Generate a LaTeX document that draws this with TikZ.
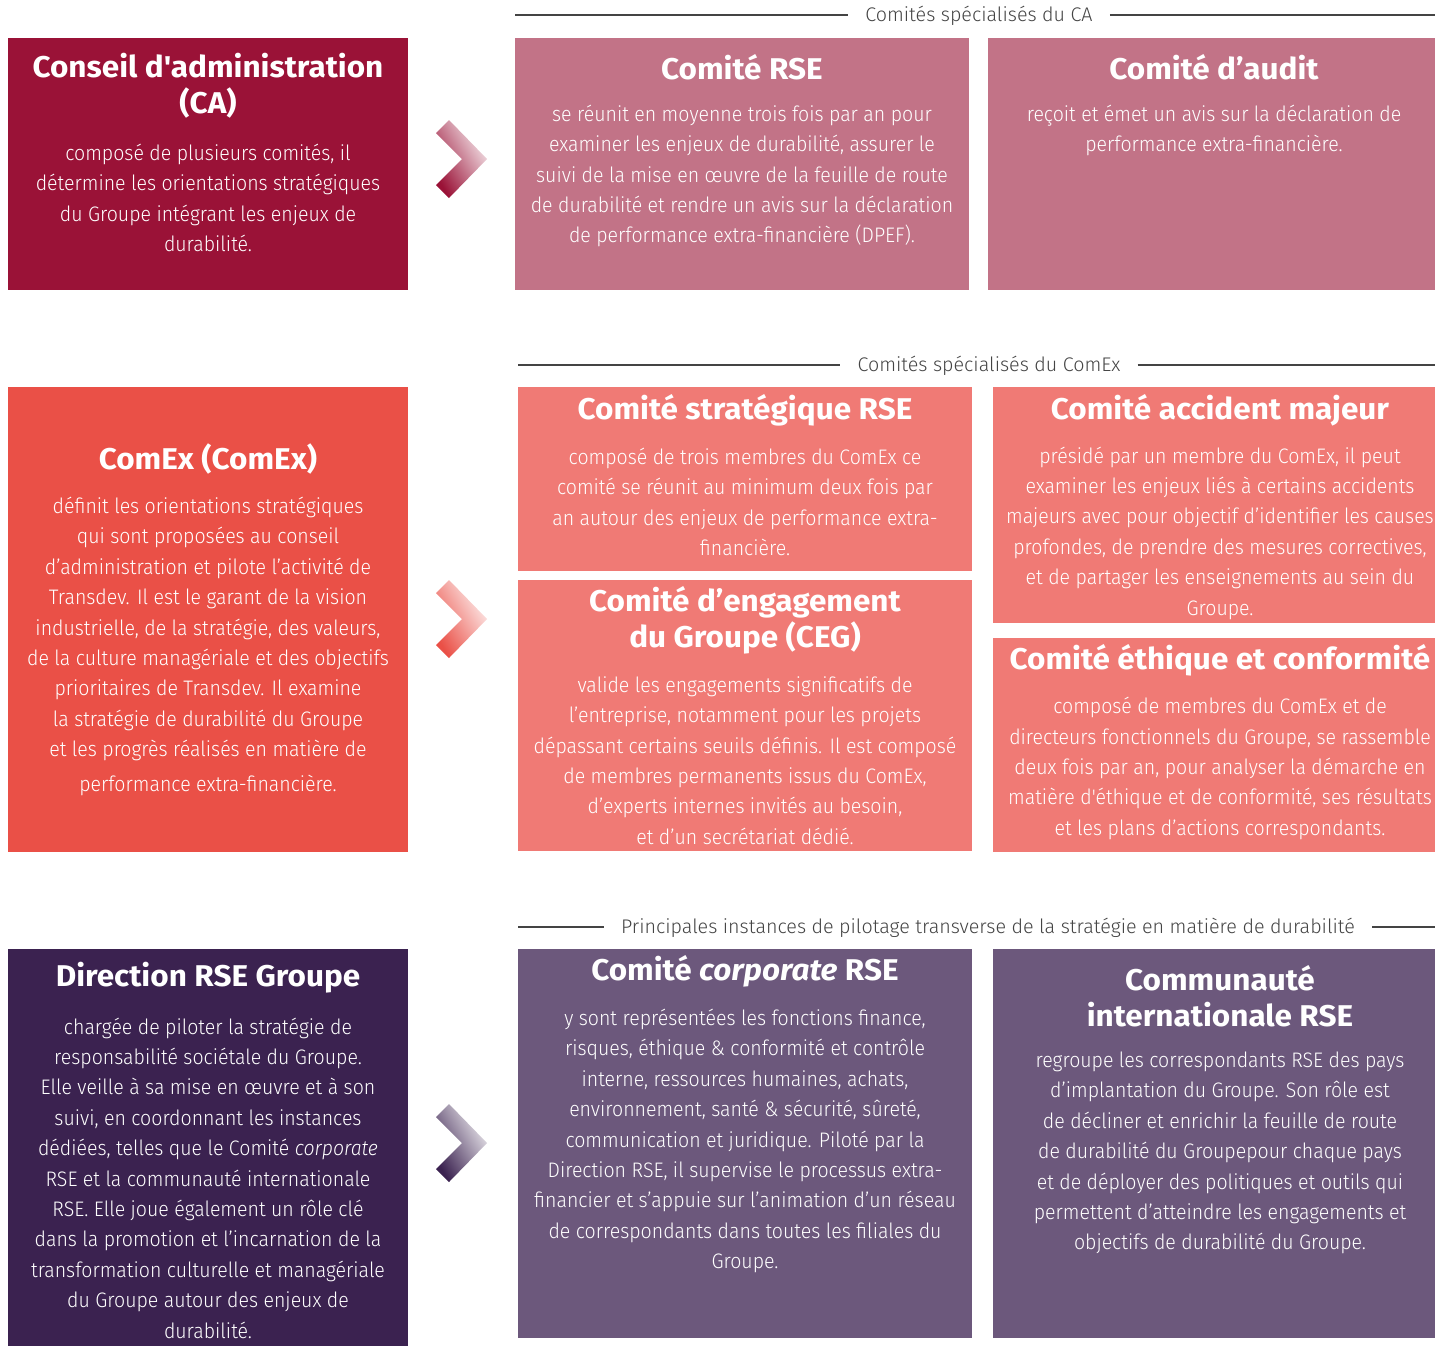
\documentclass[tikz,border=0pt]{standalone}
\usepackage{fontspec}
\setmainfont{Fira Sans}[UprightFont=* Light, BoldFont=* Bold, ItalicFont=* Light Italic, BoldItalicFont=* Bold Italic]
\newfontfamily\bodyfont{Fira Sans}[UprightFont=* Light, ItalicFont=* Light Italic, FakeStretch=0.93]
\newfontfamily\hdrfont{Fira Sans}[UprightFont=* Light, ItalicFont=* Light Italic]
\newfontfamily\ttlfont{Fira Sans}[UprightFont=* Bold, ItalicFont=* Bold Italic, FakeStretch=1.05]
\definecolor{caC}{HTML}{9A1237}
\definecolor{pinkC}{HTML}{C27387}
\definecolor{comexC}{HTML}{EA5047}
\definecolor{coralC}{HTML}{F07A75}
\definecolor{dpurC}{HTML}{3B2250}
\definecolor{lpurC}{HTML}{6C587C}
\definecolor{hdrC}{HTML}{444444}
\newcommand\mychev[3]{%
  \shade[left color=#2, right color=#3, shading angle=120]
    (436,{#1-26}) -- (449,{#1-39}) -- (487,#1) -- (449,{#1+39}) -- (436,{#1+26}) -- (462,#1) -- cycle;}
\begin{document}
\begin{tikzpicture}[x=1pt,y=-1pt,
  ttl/.style={text=white, font=\ttlfont\fontsize{30}{36}\selectfont, align=center, inner sep=0pt},
  body/.style={text=white, font=\bodyfont\fontsize{21}{30.4}\selectfont, align=center, inner sep=0pt},
  hdr/.style={text=hdrC, font=\hdrfont\fontsize{19.7}{22}\selectfont, inner xsep=17pt, inner ysep=0pt},
  hline/.style={draw=hdrC, line width=1.3pt}]
\useasboundingbox (0,0) rectangle (1435,1345);
\clip (0,0) rectangle (1435,1345);
% boxes
\fill[caC] (8,38) rectangle (408,290);
\fill[pinkC] (515,38) rectangle (969,290);
\fill[pinkC] (988,38) rectangle (1440,290);
\fill[comexC] (8,387) rectangle (408,852);
\fill[coralC] (518,387) rectangle (972,571);
\fill[coralC] (518,580) rectangle (972,851);
\fill[coralC] (993,387) rectangle (1447,623);
\fill[coralC] (993,638) rectangle (1447,852);
\fill[dpurC] (8,949) rectangle (408,1350);
\fill[lpurC] (518,949) rectangle (972,1338);
\fill[lpurC] (993,949) rectangle (1447,1338);
% chevrons
\mychev{159}{caC}{caC!8}
\mychev{619}{comexC}{comexC!8}
\mychev{1143}{dpurC}{dpurC!8}
% headers
\node[hdr] (h1) at (979,16) {Comités spécialisés du CA};
\coordinate (h1l) at (515,15); \coordinate (h1r) at (1435,15);
\draw[hline] (h1l) -- (h1l -| h1.west); \draw[hline] (h1r -| h1.east) -- (h1r);
\node[hdr] (h2) at (989,366) {Comités spécialisés du ComEx};
\coordinate (h2l) at (518,365); \coordinate (h2r) at (1435,365);
\draw[hline] (h2l) -- (h2l -| h2.west); \draw[hline] (h2r -| h2.east) -- (h2r);
\node[hdr] (h3) at (988,928) {Principales instances de pilotage transverse de la stratégie en matière de durabilité};
\coordinate (h3l) at (518,927); \coordinate (h3r) at (1435,927);
\draw[hline] (h3l) -- (h3l -| h3.west); \draw[hline] (h3r -| h3.east) -- (h3r);
% row 1
\node[ttl] (caT) at (208,86) {Conseil d'administration\\(CA)};
\node[body] (caB) at (208,198) {composé de plusieurs comités, il\\détermine les orientations stratégiques\\du Groupe intégrant les enjeux de\\durabilité.};
\node[ttl] (rseT) at (742,67) {Comité RSE};
\node[body] (rseB) at (742,176) {se réunit en moyenne trois fois par an pour\\examiner les enjeux de durabilité, assurer le\\suivi de la mise en œuvre de la feuille de route\\de durabilité et rendre un avis sur la déclaration\\de performance extra-financière (DPEF).};
\node[ttl] (audT) at (1214,67) {Comité d’audit};
\node[body] (audB) at (1214,130.5) {reçoit et émet un avis sur la déclaration de\\performance extra-financière.};
% row 2
\node[ttl] (comexT) at (208,459) {ComEx (ComEx)};
\node[body] (comexB) at (208,646.5) {définit les orientations stratégiques\\qui sont proposées au conseil\\d’administration et pilote l’activité de\\Transdev. Il est le garant de la vision\\industrielle, de la stratégie, des valeurs,\\de la culture managériale et des objectifs\\prioritaires de Transdev. Il examine\\la stratégie de durabilité du Groupe\\et les progrès réalisés en matière de\\[4.6pt]performance extra-financière.};
\node[ttl] (stratT) at (745,410) {Comité stratégique RSE};
\node[body] (stratB) at (745,502) {composé de trois membres du ComEx ce\\comité se réunit au minimum deux fois par\\an autour des enjeux de performance extra-\\financière.};
\node[ttl] (cegT) at (745,620.5) {Comité d’engagement\\du Groupe (CEG)};
\node[body] (cegB) at (745,760.5) {valide les engagements significatifs de\\l’entreprise, notamment pour les projets\\dépassant certains seuils définis. Il est composé\\de membres permanents issus du ComEx,\\d’experts internes invités au besoin,\\et d’un secrétariat dédié.};
\node[ttl] (accT) at (1220,410) {Comité accident majeur};
\node[body] (accB) at (1220,533) {présidé par un membre du ComEx, il peut\\examiner les enjeux liés à certains accidents\\majeurs avec pour objectif d’identifier les causes\\profondes, de prendre des mesures correctives,\\et de partager les enseignements au sein du\\Groupe.};
\node[ttl] (ethT) at (1220,660) {Comité éthique et conformité};
\node[body] (ethB) at (1220,768.5) {composé de membres du ComEx et de\\directeurs fonctionnels du Groupe, se rassemble\\deux fois par an, pour analyser la démarche en\\matière d'éthique et de conformité, ses résultats\\et les plans d’actions correspondants.};
% row 3
\node[ttl] (dirT) at (208,978) {Direction RSE Groupe};
\node[body] (dirB) at (208,1178) {chargée de piloter la stratégie de\\responsabilité sociétale du Groupe.\\Elle veille à sa mise en œuvre et à son\\suivi, en coordonnant les instances\\dédiées, telles que le Comité \textit{corporate}\\RSE et la communauté internationale\\RSE. Elle joue également un rôle clé\\dans la promotion et l’incarnation de la\\transformation culturelle et managériale\\du Groupe autour des enjeux de\\durabilité.};
\node[ttl] (corpT) at (745,971) {Comité \textit{corporate} RSE};
\node[body] (corpB) at (745,1141) {y sont représentées les fonctions finance,\\risques, éthique \& conformité et contrôle\\interne, ressources humaines, achats,\\environnement, santé \& sécurité, sûreté,\\communication et juridique. Piloté par la\\Direction RSE, il supervise le processus extra-\\financier et s’appuie sur l’animation d’un réseau\\de correspondants dans toutes les filiales du\\Groupe.};
\node[ttl] (commT) at (1220,996) {Communauté\\internationale RSE};
\node[body] (commB) at (1220,1153) {regroupe les correspondants RSE des pays\\d’implantation du Groupe. Son rôle est\\de décliner et enrichir la feuille de route\\de durabilité du Groupepour chaque pays\\et de déployer des politiques et outils qui\\permettent d’atteindre les engagements et\\objectifs de durabilité du Groupe.};
\end{tikzpicture}
\end{document}
